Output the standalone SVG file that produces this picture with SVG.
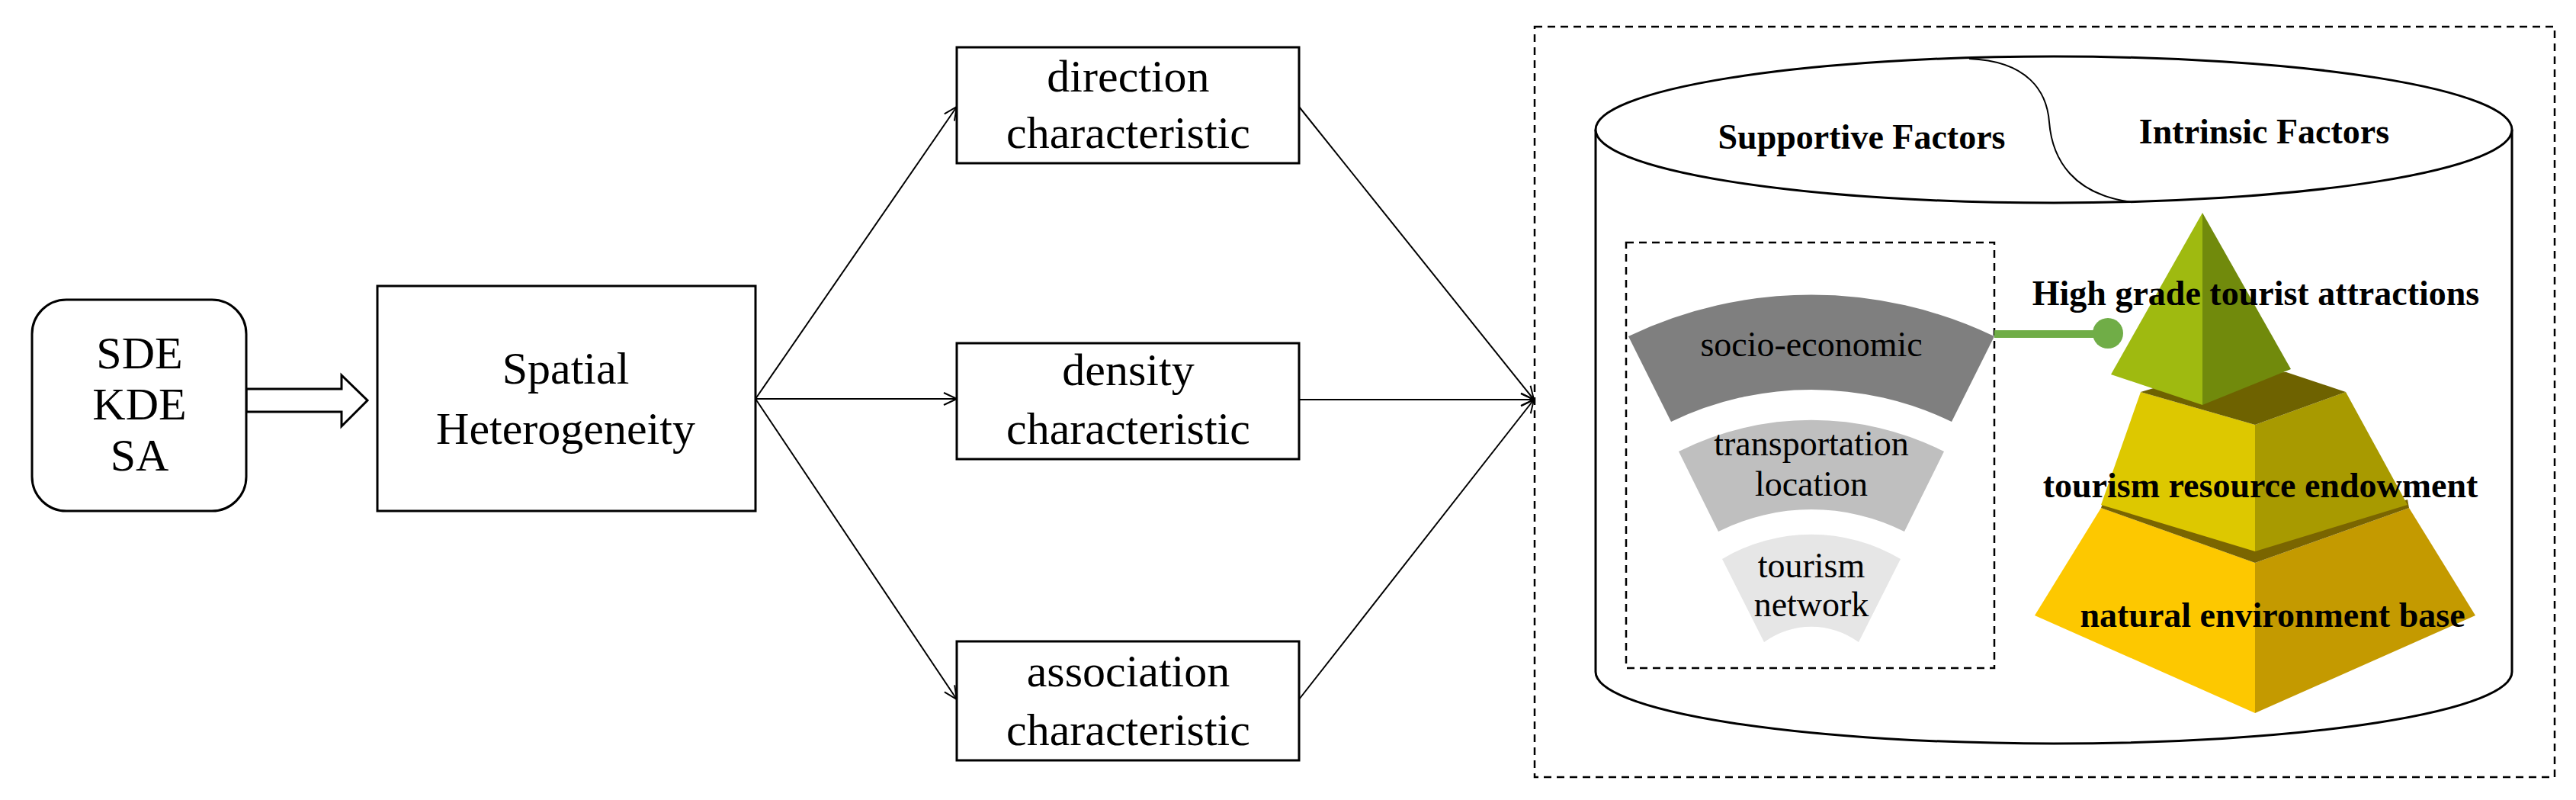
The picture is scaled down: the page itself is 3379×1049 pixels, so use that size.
<svg xmlns="http://www.w3.org/2000/svg" width="3379" height="1049" viewBox="0 0 3379 1049">
<defs>
<style>
.box{fill:#fff;stroke:#000;stroke-width:3}
.t{font-family:"Liberation Serif","Times New Roman","DejaVu Serif",serif;font-size:60px;text-anchor:middle;fill:#000}
.s{font-size:46px}
.b{font-family:"Liberation Serif","Times New Roman","DejaVu Serif",serif;font-weight:bold;font-size:46px;text-anchor:middle;fill:#000}
.ln{stroke:#000;stroke-width:2;fill:none}
.dash{fill:none;stroke:#000;stroke-width:2.5;stroke-dasharray:10,7}
</style>
<marker id="ah" viewBox="0 0 20 20" refX="19" refY="10" markerWidth="20" markerHeight="20" markerUnits="userSpaceOnUse" orient="auto">
<path d="M2,2 L19,10 L2,18" fill="none" stroke="#000" stroke-width="2"/>
</marker>
</defs>
<rect width="3379" height="1049" fill="#fff"/>
<g id="connectors">
<polygon points="323,510 448,510 448,492 482,525 448,559 448,540 323,540" fill="#fff" stroke="#000" stroke-width="3"/>
<line class="ln" x1="991" y1="523" x2="1255" y2="140" marker-end="url(#ah)"/>
<line class="ln" x1="991" y1="523" x2="1255" y2="523" marker-end="url(#ah)"/>
<line class="ln" x1="991" y1="523" x2="1255" y2="917" marker-end="url(#ah)"/>
<line class="ln" x1="1704" y1="140" x2="2012" y2="524" marker-end="url(#ah)"/>
<line class="ln" x1="1704" y1="524" x2="2012" y2="524" marker-end="url(#ah)"/>
<line class="ln" x1="1704" y1="917" x2="2012" y2="524" marker-end="url(#ah)"/>
</g>
<g id="sde"><rect class="box" x="42" y="393" width="281" height="277" rx="45"/>
<text class="t" x="183" y="483">SDE</text><text class="t" x="183" y="550">KDE</text><text class="t" x="183" y="617">SA</text></g>
<g id="spatial"><rect class="box" x="495" y="375" width="496" height="295"/>
<text class="t" x="742" y="503">Spatial</text><text class="t" x="742" y="582">Heterogeneity</text></g>
<g id="direction"><rect class="box" x="1255" y="62" width="449" height="152"/>
<text class="t" x="1480" y="120">direction</text><text class="t" x="1480" y="194">characteristic</text></g>
<g id="density"><rect class="box" x="1255" y="450" width="449" height="152"/>
<text class="t" x="1480" y="505">density</text><text class="t" x="1480" y="582">characteristic</text></g>
<g id="association"><rect class="box" x="1255" y="841" width="449" height="156"/>
<text class="t" x="1480" y="900">association</text><text class="t" x="1480" y="977">characteristic</text></g>
<g id="factors">
<rect class="dash" x="2013" y="35" width="1338" height="984"/>
<path d="M2093,170 L2093,881 A601,94 0 0 0 3295,881 L3295,170" fill="#fff" stroke="#000" stroke-width="3"/>
<ellipse cx="2694" cy="170" rx="601" ry="96" fill="#fff" stroke="#000" stroke-width="3"/>
<path d="M2583,77 C2660,80 2685,120 2688,160 C2692,210 2720,255 2796,265" class="ln"/>
<text class="b" x="2442" y="195">Supportive Factors</text>
<text class="b" x="2970" y="188">Intrinsic Factors</text>
<rect class="dash" x="2133" y="318" width="483" height="558"/>
<g id="rings">
<path d="M2136,441 A556,556 0 0 1 2616,441 L2560,553 A423,423 0 0 0 2192,553 Z" fill="#7f7f7f"/>
<path d="M2202,592 A388,388 0 0 1 2550,592 L2498,697 A272,272 0 0 0 2254,697 Z" fill="#bfbfbf"/>
<path d="M2259,733 A228,228 0 0 1 2493,733 L2438,842 A105,105 0 0 0 2314,842 Z" fill="#e6e6e6"/>
<text class="t s" x="2376" y="467">socio-economic</text>
<text class="t s" x="2376" y="597">transportation</text><text class="t s" x="2376" y="650">location</text>
<text class="t s" x="2376" y="757">tourism</text><text class="t s" x="2376" y="808">network</text>
</g>
<g id="link"><line x1="2616" y1="438" x2="2760" y2="438" stroke="#70ad47" stroke-width="10"/><circle cx="2765" cy="437" r="20" fill="#70ad47"/></g>
<g id="pyramid">
<polygon points="2669,807 2756,666 2958,738 2958,935" fill="#fdc800"/>
<polygon points="2958,738 3160,666 3247,807 2958,935" fill="#c49a00"/>
<polygon points="2756,666 2760,655 2958,718 3158,655 3160,666 2958,738" fill="#7a6500"/>
<polygon points="2756,662 2808,514 2958,557 2958,723" fill="#ddc800"/>
<polygon points="2958,557 3077,514 3158,662 2958,723" fill="#a89a00"/>
<polygon points="2808,514 2889,490 2999,488 3077,514 2958,557" fill="#6e6200"/>
<polygon points="2769,491 2889,279 2889,531" fill="#9fba10"/>
<polygon points="2889,279 3005,484 2889,531" fill="#718a0c"/>
</g>
<text class="b" x="2959" y="400">High grade tourist attractions</text>
<text class="b" x="2965" y="652">tourism resource endowment</text>
<text class="b" x="2981" y="822">natural environment base</text>
</g>
</svg>
